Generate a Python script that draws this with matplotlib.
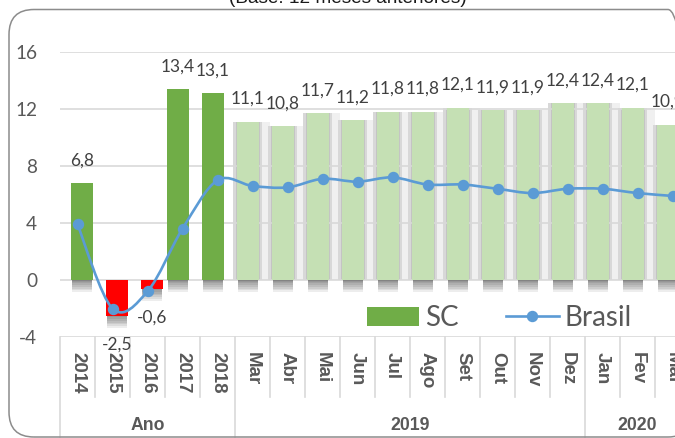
import numpy as np
import matplotlib.pyplot as plt
from matplotlib.patches import Patch, PathPatch, FancyBboxPatch
from matplotlib.lines import Line2D
from matplotlib.path import Path

# data
categories = ['2014', '2015', '2016', '2017', '2018',
              'Mar', 'Abr', 'Mai', 'Jun', 'Jul', 'Ago', 'Set', 'Out', 'Nov', 'Dez',
              'Jan', 'Fev', 'Mar']
sc = [6.8, -2.5, -0.6, 13.4, 13.1,
      11.1, 10.8, 11.7, 11.2, 11.8, 11.8, 12.1, 11.9, 11.9, 12.4,
      12.4, 12.1, 10.9]
brasil = [3.9, -2.0, -0.8, 3.6, 7.0,
          6.6, 6.5, 7.1, 6.9, 7.2, 6.7, 6.7, 6.4, 6.1, 6.4,
          6.4, 6.1, 5.9]
groups = ['Ano', '2019', '2020']
group_sizes = [5, 10, 3]
yticks = [-4, 0, 4, 8, 12, 16]

plt.rcParams['font.family'] = ['Lato', 'DejaVu Sans']

W, H = 675, 438
fig = plt.figure(figsize=(W / 100, H / 100), dpi=100)
ax = fig.add_axes([60 / W, 101 / H, 630 / W, 285 / H])
ax.set_xlim(-0.5, len(categories) - 0.5)
ax.set_ylim(-4, 16)
for s in ax.spines.values():
    s.set_visible(False)
ax.set_xticks([])
ax.set_yticks(yticks)
ax.set_yticklabels([str(t) for t in yticks])
ax.tick_params(axis='y', length=0, pad=16.5, labelsize=13.7, labelcolor='#595959')

for t in yticks:
    ax.axhline(t, color='#d9d9d9', lw=1.2, zorder=1)

n = len(categories)
x = np.arange(n)
vals = np.array(sc)
annual = x < group_sizes[0]
# the excel series sit a bit off the category centre
bx = x + np.where(x < 3, 0.13, -0.13)
bw = 0.61
colors = ['#FF0000' if v < 0 else ('#70AD47' if a else '#C5E0B4')
          for v, a in zip(sc, annual)]

# greyish shadow stripes around the monthly bars
m = ~annual
ax.bar(x[m], vals[m], width=1.0, color='#f0f0f0', zorder=0.5)
ax.bar(bx[m], vals[m], width=bw + 0.22, color='#d8d8d8', zorder=0.6)
ax.bar(bx[m], vals[m], width=bw + 0.1, color='#c4c4c4', zorder=0.7)

# soft shadow under each bar
base = np.minimum(vals, 0)
for h in np.linspace(0.12, 0.85, 7):
    ax.bar(bx, -h, bottom=base, width=bw * 0.95, color='k', alpha=0.07, zorder=1.5,
           linewidth=0)

ax.bar(bx, sc, width=bw, color=colors, zorder=2)

for i, v in enumerate(sc):
    dy = 16.5 if v >= 0 else -21
    ax.annotate(f'{v:.1f}'.replace('.', ','), (bx[i], v), xytext=(0, dy),
                textcoords='offset points', ha='center', va='center',
                fontsize=12.5, color='#404040', annotation_clip=False, zorder=5)

# smoothed line (excel style bezier through the points)
P = np.column_stack([x, brasil]).astype(float)
verts = [P[0]]
codes = [Path.MOVETO]
for i in range(n - 1):
    p0 = P[max(i - 1, 0)]
    p3 = P[min(i + 2, n - 1)]
    c1 = P[i] + (P[i + 1] - p0) / 6
    c2 = P[i + 1] - (p3 - P[i]) / 6
    verts += [c1, c2, P[i + 1]]
    codes += [Path.CURVE4] * 3
ax.add_patch(PathPatch(Path(verts, codes), facecolor='none', edgecolor='#5B9BD5',
                       lw=1.9, zorder=3))
ax.plot(x, brasil, 'o', color='#5B9BD5', ms=7.2, zorder=4, linestyle='none')

# category axis in two levels
trans = ax.get_xaxis_transform()
ph = 285.0
for i, c in enumerate(categories):
    ax.text(i, -15.5 / ph, c, rotation=-90, ha='center', va='top', transform=trans,
            family='Liberation Sans', fontweight='bold', fontsize=13.5, color='#595959')

edges = np.cumsum([0] + group_sizes) - 0.5
for b in np.arange(n + 1) - 0.5:
    low = -100 / ph if b in edges else -60 / ph
    ax.plot([b, b], [0, low], transform=trans, color='#d9d9d9', lw=1.2, clip_on=False)

for k, g in enumerate(groups):
    ax.text((edges[k] + edges[k + 1]) / 2, -88 / ph, g, ha='center', va='center',
            transform=trans, family='Liberation Sans', fontweight='bold',
            fontsize=12.7, color='#595959')

handles = [Patch(facecolor='#70AD47', label='SC'),
           Line2D([], [], color='#5B9BD5', lw=1.9, marker='o', ms=7.2, label='Brasil')]
fig.legend(handles=handles, loc='center', bbox_to_anchor=(499 / W, 120 / H), ncol=2,
           frameon=False, fontsize=20, handlelength=1.9, handleheight=0.65,
           handletextpad=0.2, columnspacing=1.7, labelcolor='#595959')

fig.add_artist(FancyBboxPatch((0.09, 0.01), 6.84, 4.275,
                              boxstyle='round,pad=0,rounding_size=0.25',
                              transform=fig.dpi_scale_trans, facecolor='none',
                              edgecolor='#8c8c8c', lw=1.1))
fig.text(347.5 / W, (H - 3) / H, '(Base: 12 meses anteriores)', ha='center',
         va='baseline', fontsize=13.7, family='Liberation Sans', color='#1a1a1a')

fig.savefig('out.png', dpi=100)
